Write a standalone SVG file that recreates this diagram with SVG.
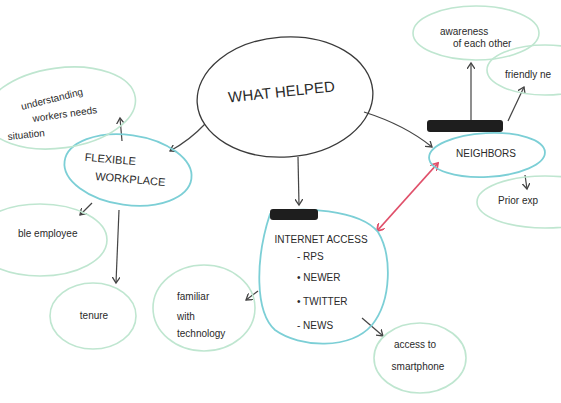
<svg xmlns="http://www.w3.org/2000/svg" width="561" height="403" viewBox="0 0 561 403">
<defs>
<style>
.bg{fill:#ffffff}
.main{fill:none;stroke:#3a3a3a;stroke-width:1.3}
.teal{fill:none;stroke:#7ccfd6;stroke-width:1.8}
.green{fill:none;stroke:#bfe6d0;stroke-width:1.6}
.edge{fill:none;stroke:#444;stroke-width:1.2}
.red{fill:none;stroke:#e0506a;stroke-width:1.8}
.cap{font-family:"Liberation Sans",Arial,sans-serif;font-size:11px;fill:#2a2a2a}
.hand{font-family:"Liberation Sans",Arial,sans-serif;font-size:10px;fill:#2a2a2a}
.big{font-family:"Liberation Sans",Arial,sans-serif;font-size:15px;fill:#2a2a2a}
.blob{fill:#1e1e1e}
</style>
<marker id="ah" markerWidth="8" markerHeight="8" refX="6" refY="4" orient="auto" markerUnits="userSpaceOnUse">
<path d="M0,0 L6,4 L0,8" fill="none" stroke="#444" stroke-width="1.3"/>
</marker>
<marker id="rh" markerWidth="9" markerHeight="9" refX="7" refY="4.5" orient="auto" markerUnits="userSpaceOnUse">
<path d="M0,0 L7,4.5 L0,9" fill="none" stroke="#e0506a" stroke-width="1.8"/>
</marker>
<marker id="rs" markerWidth="9" markerHeight="9" refX="0" refY="4.5" orient="auto" markerUnits="userSpaceOnUse">
<path d="M7,0 L0,4.5 L7,9" fill="none" stroke="#e0506a" stroke-width="1.8"/>
</marker>
</defs>
<rect class="bg" x="0" y="0" width="561" height="403"/>

<g id="connectors">
<path class="edge" d="M205,124 Q190,140 170,151" marker-end="url(#ah)"/>
<path class="edge" d="M298,157 L299,205" marker-end="url(#ah)"/>
<path class="edge" d="M364,112 Q405,125 432,147" marker-end="url(#ah)"/>
<path class="edge" d="M122,141 L120,118" marker-end="url(#ah)"/>
<path class="edge" d="M92,203 L80,215" marker-end="url(#ah)"/>
<path class="edge" d="M119,210 L116,283" marker-end="url(#ah)"/>
<path class="edge" d="M471,120 L471,63" marker-end="url(#ah)"/>
<path class="edge" d="M508,121 L524,87" marker-end="url(#ah)"/>
<path class="edge" d="M525,175 L527,189" marker-end="url(#ah)"/>
<path class="edge" d="M258,291 L246,300" marker-end="url(#ah)"/>
<path class="edge" d="M362,318 L383,336" marker-end="url(#ah)"/>
<path class="red" d="M377,231 L438,163" marker-start="url(#rs)" marker-end="url(#rh)"/>
</g>

<g id="what-helped">
<ellipse class="main" cx="285" cy="97" rx="88" ry="60" transform="rotate(-4 285 97)"/>
<text class="big" x="282" y="97" text-anchor="middle" transform="rotate(-6 282 97)">WHAT HELPED</text>
</g>

<g id="flexible-workplace">
<ellipse class="teal" cx="128" cy="170" rx="64" ry="35" transform="rotate(8 128 170)"/>
<text class="cap" x="110" y="163" text-anchor="middle" transform="rotate(5 110 163)">FLEXIBLE</text>
<text class="cap" x="130" y="183" text-anchor="middle" transform="rotate(5 130 183)">WORKPLACE</text>
</g>

<g id="understanding">
<ellipse class="green" cx="60" cy="108" rx="76" ry="40" transform="rotate(-8 60 108)"/>
<text class="hand" x="22" y="110" transform="rotate(-14 22 110)">understanding</text>
<text class="hand" x="33" y="122" transform="rotate(-8 33 122)">workers needs</text>
<text class="hand" x="8" y="140" transform="rotate(-6 8 140)">situation</text>
</g>

<g id="employee">
<ellipse class="green" cx="40" cy="240" rx="67" ry="36"/>
<text class="hand" x="18" y="237">ble employee</text>
</g>

<g id="tenure">
<ellipse class="green" cx="93" cy="316" rx="43" ry="33"/>
<text class="hand" x="94" y="319" text-anchor="middle">tenure</text>
</g>

<g id="internet-access">
<path class="teal" d="M270,214 C300,205 360,210 378,232 C392,255 392,300 372,325 C350,350 300,348 275,330 C255,312 255,260 270,214 Z"/>
<rect class="blob" x="270" y="209" width="48" height="11" rx="3"/>
<text class="hand" x="321" y="243" text-anchor="middle">INTERNET ACCESS</text>
<text class="hand" x="297" y="260">- RPS</text>
<text class="hand" x="297" y="281">• NEWER</text>
<text class="hand" x="297" y="305">• TWITTER</text>
<text class="hand" x="297" y="329">- NEWS</text>
</g>

<g id="neighbors">
<ellipse class="teal" cx="487" cy="155" rx="58" ry="22" transform="rotate(-3 487 155)"/>
<rect class="blob" x="427" y="120" width="76" height="12" rx="3"/>
<text class="hand" x="486" y="157" text-anchor="middle">NEIGHBORS</text>
</g>

<g id="awareness">
<ellipse class="green" cx="476" cy="33" rx="63" ry="27"/>
<text class="hand" x="440" y="35" font-size="9">awareness</text>
<text class="hand" x="453" y="47" font-size="9">of each other</text>
</g>

<g id="friendly">
<ellipse class="green" cx="545" cy="70" rx="58" ry="25"/>
<text class="hand" x="505" y="78">friendly ne</text>
</g>

<g id="prior">
<ellipse class="green" cx="545" cy="202" rx="68" ry="26"/>
<text class="hand" x="498" y="204">Prior exp</text>
</g>

<g id="familiar">
<ellipse class="green" cx="204" cy="308" rx="51" ry="43"/>
<text class="hand" x="177" y="300">familiar</text>
<text class="hand" x="177" y="320">with</text>
<text class="hand" x="177" y="337">technology</text>
</g>

<g id="smartphone">
<ellipse class="green" cx="420" cy="358" rx="46" ry="35"/>
<text class="hand" x="415" y="348" text-anchor="middle" font-size="9">access to</text>
<text class="hand" x="418" y="370" text-anchor="middle">smartphone</text>
</g>
</svg>
